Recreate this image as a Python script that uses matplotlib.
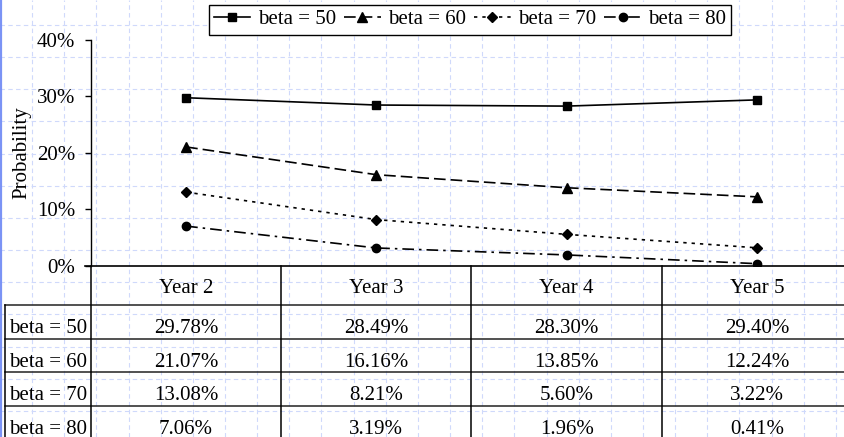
import numpy as np
import matplotlib
matplotlib.use("Agg")
import matplotlib.pyplot as plt
from matplotlib.ticker import PercentFormatter

# probability (%) per horizon for each beta
years = ["Year 2", "Year 3", "Year 4", "Year 5"]
series = ["beta = 50", "beta = 60", "beta = 70", "beta = 80"]
beta50 = [29.78, 28.49, 28.30, 29.40]
beta60 = [21.07, 16.16, 13.85, 12.24]
beta70 = [13.08, 8.21, 5.60, 3.22]
beta80 = [7.06, 3.19, 1.96, 0.41]
values = [beta50, beta60, beta70, beta80]

markers = ["s", "^", "D", "o"]
msizes = [6, 7, 5, 6]
styles = ["-", (0, (7, 3)), (0, (2, 3)), (0, (7, 3, 1.5, 3))]

plt.rcParams["font.family"] = ["Liberation Serif", "DejaVu Serif"]
plt.rcParams["font.size"] = 15

W, H = 845, 437
fig = plt.figure(figsize=(W / 100, H / 100), dpi=100)

# background paper grid (pixel units)
bg = fig.add_axes([0, 0, 1, 1], zorder=-10)
bg.set_xlim(0, W)
bg.set_ylim(H, 0)
bg.axis("off")
step = 32.15
for gx in np.arange(0, W, step):
    bg.axvline(gx, color="#cfd9fb", lw=0.8, ls=(0, (4, 3)))
for gy in np.arange(25, H, step):
    bg.axhline(gy, color="#cfd9fb", lw=0.8, ls=(0, (4, 3)))
bg.axvline(1, color="#7b93f5", lw=1.6)

# plot area
left, right = 91, 852
top, base = 40, 266
ax = fig.add_axes([left / W, (H - base) / H, (right - left) / W, (base - top) / H])
ax.set_facecolor("none")
x = np.arange(len(years))
for vals, name, mk, ms, ls in zip(values, series, markers, msizes, styles):
    ax.plot(x, vals, color="black", lw=1.2, linestyle=ls, marker=mk,
            markersize=ms, label=name)
ax.set_xlim(-0.5, len(years) - 0.5)
ax.set_ylim(0, 40)
ax.set_yticks([0, 10, 20, 30, 40])
ax.yaxis.set_major_formatter(PercentFormatter(decimals=0))
ax.tick_params(axis="y", direction="out", length=4.5, width=1, pad=7)
ax.set_xticks([])
for s in ["top", "right", "bottom"]:
    ax.spines[s].set_visible(False)
ax.spines["left"].set_linewidth(1)
ax.set_ylabel("Probability", labelpad=4)

fig.legend(loc="center", bbox_to_anchor=(470 / W, 1 - 19.5 / H), ncol=4,
           frameon=True, fancybox=False, edgecolor="black", framealpha=1,
           handlelength=1.75, handletextpad=0.35, columnspacing=0.4,
           borderpad=0.25, borderaxespad=0)
fig.legends[0].get_frame().set_linewidth(1)

# data table beneath the plot, y in pixel units
tb = fig.add_axes([left / W, 0, (right - left) / W, (H - base) / H])
tb.set_facecolor("none")
tb.set_xlim(-0.5, len(years) - 0.5)
tb.set_ylim(H, base)
tb.axis("off")
col_w = (right - left) / len(years)
lab_left = -0.5 - (left - 5) / col_w
header_h = 39
row_h = 33.5
row_tops = [base + header_h + i * row_h for i in range(len(series))]

tb.plot([-0.5 - 6 / col_w, len(years) - 0.5], [base, base], color="black",
        lw=1.2, clip_on=False)
for yt in row_tops:
    tb.plot([lab_left, len(years) - 0.5], [yt, yt], color="#222222", lw=1.1,
            clip_on=False)
for i in range(len(years)):
    tb.plot([i - 0.5, i - 0.5], [base, H + 5], color="black", lw=1.1, clip_on=False)
tb.plot([lab_left, lab_left], [row_tops[0], H + 5], color="black", lw=1.1,
        clip_on=False)

for i, yr in enumerate(years):
    tb.text(i, base + 27, yr, ha="center", va="baseline")
for r, (name, vals) in enumerate(zip(series, values)):
    yb = row_tops[r] + 28
    tb.text(lab_left + 4 / col_w, yb, name, ha="left", va="baseline", clip_on=False)
    for i, v in enumerate(vals):
        tb.text(i, yb, f"{v:.2f}%", ha="center", va="baseline")

fig.savefig("out.png", dpi=100)
